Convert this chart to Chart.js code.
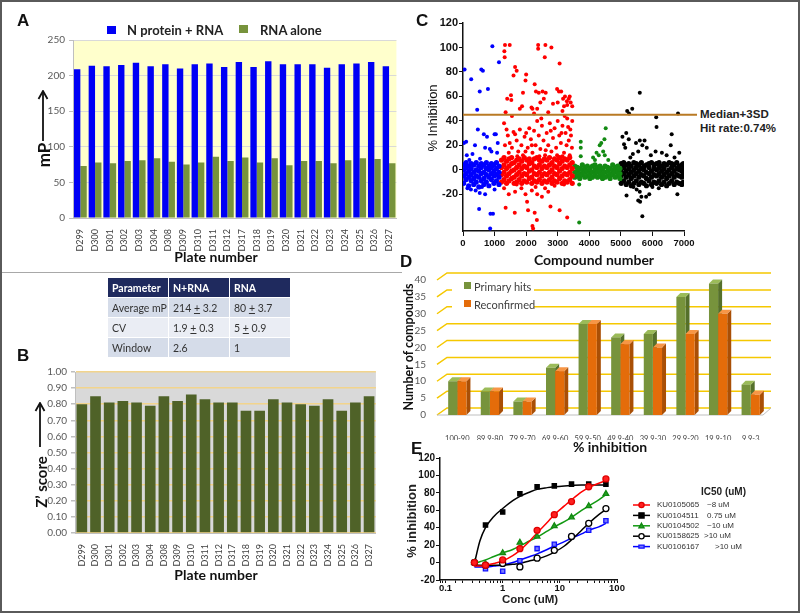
<!DOCTYPE html>
<html><head><meta charset="utf-8">
<script src="https://cdn.jsdelivr.net/npm/chart.js@4.4.0/dist/chart.umd.min.js"></script>
<style>
body{margin:0;width:800px;height:614px;position:relative;background:#fff;overflow:hidden;font-family:Lato,"Liberation Sans",sans-serif}
.frame{position:absolute;left:0;top:0;width:796px;height:609px;border:2px solid #5a5a5a}
canvas{position:absolute}
.t{position:absolute;white-space:nowrap;line-height:1}
.ctr{transform:translateX(-50%)}
.rot{transform:translate(-50%,-50%) rotate(-90deg)}
.pl{font:bold 17px "Liberation Sans",Arial,sans-serif;color:#111}
.tbl{position:absolute;border-collapse:collapse;table-layout:fixed;width:183px;font:10.5px Lato,sans-serif;color:#333}
.tbl td,.tbl th{border:1px solid #fff;padding:0 0 0 4px;text-align:left;height:19px;white-space:nowrap;overflow:hidden}
.tbl th{background:#1F2A5E;color:#fff;font-weight:bold}
.tbl tr.a td{background:#D5DCE9}
.tbl tr.b td{background:#EAEDF4}
.sq{position:absolute}
</style></head>
<body>
<div class="frame"></div>
<div style="position:absolute;left:2px;top:272px;width:400px;height:1px;background:#a8a8a8"></div>

<canvas id="cA" width="375" height="223" style="left:28px;top:30px"></canvas>
<canvas id="cB" width="353" height="211" style="left:30px;top:362px"></canvas>
<canvas id="cC" width="282" height="240" style="left:418px;top:13px"></canvas>
<canvas id="cD" width="368" height="178" style="left:411px;top:262px"></canvas>
<canvas id="cE" width="385" height="152" style="left:405px;top:448px"></canvas>

<!-- Panel A labels -->
<div class="t pl" style="left:17px;top:11px">A</div>
<div class="sq" style="left:107px;top:26px;width:9px;height:8px;background:#0000F5"></div>
<div class="t" style="left:127px;top:22px;font:bold 13px Lato,sans-serif;color:#222">N protein + RNA</div>
<div class="sq" style="left:239px;top:25px;width:9px;height:8px;background:#77933C"></div>
<div class="t" style="left:260px;top:22px;font:bold 13px Lato,sans-serif;color:#222">RNA alone</div>
<div class="t rot" style="left:43px;top:155px;font:bold 17px Lato,sans-serif;color:#111">mP</div>
<svg style="position:absolute;left:37px;top:90px" width="12" height="52"><line x1="6" y1="51" x2="6" y2="3" stroke="#111" stroke-width="1.8"/><path d="M1.5 9 L6 1 L10.5 9" fill="none" stroke="#111" stroke-width="1.8"/></svg>
<div class="t ctr" style="left:216px;top:248px;font:bold 14px Lato,sans-serif;color:#111">Plate number</div>

<table class="tbl" id="tbl" style="left:107px;top:277px"><colgroup><col style="width:61px"><col style="width:61px"><col style="width:61px"></colgroup><tbody id="tbody"></tbody></table>

<!-- Panel B labels -->
<div class="t pl" style="left:17px;top:346px">B</div>
<div class="t rot" style="left:41px;top:482px;font:bold 15px Lato,sans-serif;color:#111">Z’ score</div>
<svg style="position:absolute;left:34px;top:402px" width="12" height="46"><line x1="6" y1="45" x2="6" y2="3" stroke="#111" stroke-width="1.8"/><path d="M1.5 9 L6 1 L10.5 9" fill="none" stroke="#111" stroke-width="1.8"/></svg>
<div class="t ctr" style="left:216px;top:566px;font:bold 14px Lato,sans-serif;color:#111">Plate number</div>

<!-- Panel C labels -->
<div class="t pl" style="left:416px;top:11px">C</div>
<div class="t rot" style="left:432px;top:118px;font:13px 'Liberation Sans',Arial,sans-serif;color:#111">% Inhibition</div>
<div class="t" style="left:700px;top:108px;font:bold 11.5px 'Liberation Sans Narrow','Liberation Sans',Arial,sans-serif;color:#222">Median+3SD</div>
<div class="t" style="left:700px;top:122px;font:bold 11.5px 'Liberation Sans Narrow','Liberation Sans',Arial,sans-serif;color:#222">Hit rate:0.74%</div>
<div class="t ctr" style="left:594px;top:251px;font:bold 14px Lato,sans-serif;color:#111">Compound number</div>

<!-- Panel D labels -->
<div class="t pl" style="left:400px;top:252px">D</div>
<div class="t rot" style="left:408px;top:347px;font:bold 12.5px Lato,sans-serif;color:#111">Number of compounds</div>
<div style="position:absolute;left:452px;top:278px;width:82px;height:35px;background:#fff"></div>
<div class="sq" style="left:464px;top:282px;width:7px;height:7px;background:#77933C"></div>
<div class="t" style="left:474px;top:280px;font:11px Lato,sans-serif;color:#404040">Primary hits</div>
<div class="sq" style="left:464px;top:300px;width:7px;height:7px;background:#E46C0A"></div>
<div class="t" style="left:474px;top:298px;font:11px Lato,sans-serif;color:#404040">Reconfirmed</div>
<div class="t ctr" style="left:610px;top:438px;font:bold 14px Lato,sans-serif;color:#111">% inhibition</div>

<!-- Panel E labels -->
<div class="t pl" style="left:411px;top:439px">E</div>
<div class="t rot" style="left:411px;top:521px;font:bold 13px 'Liberation Sans',Arial,sans-serif;color:#222">% inhibition</div>
<div class="t ctr" style="left:530px;top:593px;font:bold 11.5px 'Liberation Sans',Arial,sans-serif;color:#222">Conc (uM)</div>

<script>
// ---------- Panel A / B data ----------
const plates = ['D299','D300','D301','D302','D303','D304','D308','D309','D310','D311','D312','D317','D318','D319','D320','D321','D322','D323','D324','D325','D326','D327'];
const nProteinRNA = [209,214,213,215,218,213,216,210,216,217,212,219,212,220,216,216,216,211,216,217,219,213];
const rnaAlone = [73,78,77,80,81,84,79,75,78,86,80,85,78,84,74,80,80,77,81,84,83,77];
const zScore = [0.80,0.85,0.81,0.82,0.81,0.79,0.85,0.82,0.86,0.83,0.81,0.81,0.76,0.76,0.83,0.81,0.80,0.79,0.83,0.76,0.81,0.85];

// ---------- Table ----------
const tableHeader = ['Parameter','N+RNA','RNA'];
const tableRows = [['Average mP','214 <u>+</u> 3.2','80 <u>+</u> 3.7'],['CV','1.9 <u>+</u> 0.3','5 <u>+</u> 0.9'],['Window','2.6','1']];

// ---------- Panel C data (compound number, % inhibition) ----------
const blueBandX = [20,100,180,260,340,420,500,580,660,740,820,900,980,1060,1140];
const blueBandY = [[-11,-5,0,4],[-8,-3,2,6],[-13,-6,-1,3],[-9,-4,1,5],[-12,-7,-2,4],[-10,-5,0,6],[-14,-6,-1,3],[-9,-3,2,5],[-12,-7,-2,4],[-10,-4,1,6],[-13,-6,0,3],[-8,-3,2,5],[-11,-5,-1,4],[-9,-4,1,6],[-12,-6,-2,3]];
const redBandX = [1220,1300,1380,1460,1540,1620,1700,1780,1860,1940,2020,2100,2180,2260,2340,2420,2500,2580,2660,2740,2820,2900,2980,3060,3140,3220,3300,3380,3460];
const redBandY = [[-10,-4,2,8],[-8,-2,4,10],[-11,-5,1,7],[-9,-3,3,9],[-7,-1,5,10],[-11,-6,0,6],[-10,-4,2,8],[-8,-2,4,9],[-11,-5,1,7],[-9,-3,3,10],[-10,-4,2,8],[-7,-1,5,9],[-11,-6,0,6],[-9,-3,3,9],[-10,-4,2,10],[-8,-2,4,8],[-11,-5,1,7],[-9,-3,3,9],[-10,-4,2,8],[-8,-2,4,10],[-11,-6,0,6],[-9,-3,3,9],[-10,-4,2,8],[-7,-1,5,10],[-11,-5,1,7],[-9,-3,3,9],[-10,-4,2,8],[-8,-2,4,10],[-11,-5,1,6]];
const greenBandX = [3540,3620,3700,3780,3860,3940,4020,4100,4180,4260,4340,4420,4500,4580,4660,4740,4820,4900,4970];
const greenBandY = [[-6,-2,3],[-5,-1,2],[-7,-3,1],[-4,0,4],[-6,-2,2],[-5,-1,3],[-7,-3,1],[-6,-2,3],[-4,0,4],[-6,-2,2],[-5,-1,3],[-7,-3,1],[-6,-2,3],[-5,-1,2],[-7,-3,1],[-4,0,4],[-6,-2,2],[-5,-1,3],[-7,-3,1]];
const blackBandX = [5010,5090,5170,5250,5330,5410,5490,5570,5650,5730,5810,5890,5970,6050,6130,6210,6290,6370,6450,6530,6610,6690,6770,6850,6930,6980];
const blackBandY = [[-11,-5,0,5],[-9,-3,2,6],[-12,-6,-1,4],[-10,-4,1,5],[-13,-7,-2,3],[-11,-5,0,6],[-9,-3,2,5],[-12,-6,-1,4],[-10,-4,1,6],[-11,-5,0,3],[-13,-7,-2,4],[-9,-3,2,5],[-12,-6,-1,6],[-10,-4,1,4],[-11,-5,0,5],[-9,-3,2,6],[-12,-6,-1,3],[-10,-4,1,5],[-13,-7,-2,4],[-11,-5,0,6],[-9,-3,2,5],[-12,-6,-1,4],[-10,-4,1,6],[-11,-5,0,3],[-12,-6,-1,4],[-10,-4,1,5]];
const blueOut = [[50,82],[260,74],[580,82],[630,81],[930,101],[530,64],[790,66],[1140,88],[450,49],[470,33],[100,23],[660,29],[1000,29],[1040,29],[300,13],[120,12],[200,8],[380,20],[700,18],[850,17],[900,15],[1080,14],[1100,22],[530,-19],[700,-20],[510,-32],[870,-36],[950,-36],[860,-48],[140,-15],[250,-16],[400,-17],[600,-14],[1000,-16],[30,22],[540,9],[760,27]];
const redOut = [[1330,102],[1480,102],[1310,97],[1320,92],[1650,84],[1700,81],[1600,77],[2000,78],[1980,73],[1900,63],[2270,70],[2380,102],[2380,99],[2610,102],[2800,100],[2590,92],[3060,87],[1400,58],[1520,61],[1530,57],[1870,52],[2170,51],[2200,50],[2310,64],[2400,63],[2520,64],[2620,63],[2560,58],[2450,55],[2350,50],[2980,66],[3040,64],[3110,64],[3000,55],[3170,58],[3230,60],[3290,56],[3350,58],[3410,55],[3460,52],[3200,52],[3300,53],[3380,60],[1350,47],[1800,50],[2700,47],[2250,46],[3150,48],[2850,54],[1550,44],[2480,42],
 [1300,38],[1380,33],[1420,28],[1480,22],[1550,18],[1600,31],[1650,29],[1700,24],[1750,15],[1800,33],[1850,20],[1900,12],[1950,27],[2000,30],[2050,18],[2100,34],[2150,25],[2200,14],[2250,32],[2300,20],[2350,40],[2400,28],[2450,17],[2500,36],[2550,24],[2600,12],[2650,30],[2700,20],[2750,38],[2800,15],[2850,26],[2900,34],[2950,18],[3000,40],[3050,28],[3100,22],[3150,36],[3200,14],[3250,30],[3300,42],[3350,24],[3400,33],[3450,18],[3220,44],[3380,12],[3280,20],[3150,11],[2980,12],[2780,32],[2620,16],[2420,11],[2180,20],[1980,15],[1720,11],[1450,14],[1330,20],[3460,40],[3420,28],[3330,35],[3120,30],
 [1300,-15],[1450,-20],[1650,-18],[1700,-12],[1850,-15],[1980,-20],[2030,-26],[2060,-33],[2180,-17],[2300,-14],[2350,-20],[1350,-31],[1640,-35],[2270,-35],[2340,-41],[2200,-46],[2220,-48],[2770,-30],[3060,-33],[3300,-39],[2600,-15],[2900,-13],[3200,-12],[2500,-22],[2700,-18]];
const greenOut = [[3730,23],[3730,18],[3730,11],[4120,10],[4230,14],[4330,20],[4380,22],[4440,15],[4490,12],[4520,34],[4300,12],[4180,8],[3680,-12],[3680,-43],[4600,8],[4480,25]];
const blackOut = [[5200,48],[5360,50],[5260,46],[5600,63],[6120,43],[6130,35],[6810,46],[6610,29],[5050,27],[5100,21],[5170,30],[5140,18],[5250,25],[5380,13],[5480,22],[5600,24],[5680,20],[5750,24],[5820,18],[5950,12],[6100,15],[6300,14],[6450,12],[6580,20],[6700,10],[6850,14],[5300,10],[5550,15],[5180,-21],[5500,-16],[5550,-25],[5610,-26],[5650,-22],[5600,-18],[5680,-38],[5800,-22],[5900,-20],[6790,-20],[5400,-14],[6000,-14],[6200,-15]];
const medianPlus3SD = 45;

// ---------- Panel D data ----------
const bins = ['100-90','89.9-80','79.9-70','69.9-60','59.9-50','49.9-40','39.9-30','29.9-20','19.9-10','9.9-3'];
const primaryHits = [10,7,4,14,27,23,24,35,39,9];
const reconfirmed = [10,7,4,13,27,21,20,24,30,6];

// ---------- Panel E data ----------
const conc = [0.32,0.5,1,2,4,8,16,32,64];
const compounds = ['KU0105065','KU0104511','KU0104502','KU0158625','KU0106167'];
const ic50 = ['~8 uM','0.75 uM','~10 uM','>10 uM','>10 uM'];
const inhKU0105065 = [0,-3,3,16,37,55,70,87,96];
const inhKU0104511 = [0,43,58,79,87,88,90,90,90];
const inhKU0104502 = [0,-2,11,23,30,42,52,65,79];
const inhKU0158625 = [0,-3,-1,-5,5,14,30,45,62];
const inhKU0106167 = [0,-7,-10,2,16,21,30,37,48];
const fitConc = [0.32,0.4,0.5,0.7,1,1.5,2,3,4,6,8,12,16,24,32,48,64];
const fitKU0105065 = [-4,-4,-3,-1,2,8,14,25,34,46,55,65,72,81,86,91,94];
const fitKU0104511 = [-1,25,40,53,62,71,76,81,84,86,87,88,88.5,89,89,89,89];
const fitKU0104502 = [-1,1,3,7,11,15,19,25,29,36,41,47,52,60,65,72,78];
const fitKU0158625 = [-2,-3,-3,-3,-3,-2,-1,2,4,8,12,19,26,37,45,55,61];
const fitKU0106167 = [-5,-5,-5,-4,-3,0,3,7,10,15,19,24,28,33,37,41,45];

// ---------- build table ----------
(function(){
  const t = document.getElementById('tbody');
  let h = '<tr>' + tableHeader.map(s=>'<th>'+s+'</th>').join('') + '</tr>';
  tableRows.forEach((r,i)=>{ h += '<tr class="'+(i%2===0?'a':'b')+'">' + r.map(s=>'<td>'+s+'</td>').join('') + '</tr>'; });
  t.innerHTML = h;
})();

Chart.defaults.font.family = 'Lato, "Liberation Sans", sans-serif';
Chart.defaults.animation = false;
Chart.defaults.responsive = false;
Chart.defaults.plugins.legend.display = false;
Chart.defaults.plugins.tooltip.enabled = false;

const plotBg = {id:'plotBg', beforeDraw(chart, args, o){
  if(!o || !o.color) return;
  const {ctx, chartArea:a} = chart;
  ctx.save(); ctx.fillStyle = o.color; ctx.fillRect(a.left, a.top, a.right-a.left, a.bottom-a.top); ctx.restore();
}};

function pairs(xs, ys){ const out=[]; xs.forEach((x,i)=>ys[i].forEach(y=>out.push({x, y}))); return out; }
function pts(arr){ return arr.map(p=>({x:p[0], y:p[1]})); }
function xy(xs, ys){ return xs.map((x,i)=>({x, y:ys[i]})); }

// ---------- Panel A ----------
new Chart(document.getElementById('cA'), {
  type:'bar',
  data:{labels:plates, datasets:[
    {label:'N protein + RNA', data:nProteinRNA, backgroundColor:'#0000F5', categoryPercentage:0.87, barPercentage:1},
    {label:'RNA alone', data:rnaAlone, backgroundColor:'#77933C', categoryPercentage:0.87, barPercentage:1}
  ]},
  options:{
    layout:{padding:{top:10,right:6,left:0,bottom:0}},
    plugins:{plotBg:{color:'#FFFFCC'}},
    scales:{
      x:{grid:{display:false}, border:{color:'#BFBFBF'}, ticks:{minRotation:90,maxRotation:90,autoSkip:false,font:{size:9},color:'#404040',padding:3}, afterFit(s){s.height=35;}},
      y:{min:0,max:250,ticks:{stepSize:50,font:{size:10},color:'#595959',padding:4}, grid:{color:'#D9D9D9',tickLength:4,tickColor:'#BFBFBF'}, border:{color:'#BFBFBF'}, afterFit(s){s.width=45;}}
    }
  },
  plugins:[plotBg]
});

// ---------- Panel B ----------
new Chart(document.getElementById('cB'), {
  type:'bar',
  data:{labels:plates, datasets:[{label:"Z' score", data:zScore, backgroundColor:'#4F6228', categoryPercentage:1, barPercentage:0.78}]},
  options:{
    layout:{padding:{top:10,right:6,left:0,bottom:0}},
    plugins:{plotBg:{color:'#D9D9D9'}},
    scales:{
      x:{grid:{display:false}, border:{color:'#BFBFBF'}, ticks:{minRotation:90,maxRotation:90,autoSkip:false,font:{size:9},color:'#404040',padding:3}, afterFit(s){s.height=40;}},
      y:{min:0,max:1,ticks:{stepSize:0.1,font:{size:10},color:'#595959',padding:4,callback:v=>Number(v).toFixed(2)}, grid:{color:'#F2D48C',lineWidth:1.5,tickLength:4,tickColor:'#BFBFBF'}, border:{color:'#BFBFBF'}, afterFit(s){s.width=45;}}
    }
  },
  plugins:[plotBg]
});

// ---------- Panel C ----------
const medianLine = {id:'medianLine', afterDatasetsDraw(chart){
  const {ctx, chartArea:a, scales:{y}} = chart;
  const py = y.getPixelForValue(medianPlus3SD);
  ctx.save(); ctx.strokeStyle = '#B97A24'; ctx.lineWidth = 2;
  ctx.beginPath(); ctx.moveTo(a.left, py); ctx.lineTo(a.right + 13, py); ctx.stroke(); ctx.restore();
}};
new Chart(document.getElementById('cC'), {
  type:'scatter',
  data:{datasets:[
    {data:pairs(blueBandX, blueBandY), backgroundColor:'#0000FF', borderWidth:0, pointRadius:2.6},
    {data:pts(blueOut), backgroundColor:'#0000FF', borderWidth:0, pointRadius:2},
    {data:pairs(redBandX, redBandY), backgroundColor:'#FF0000', borderWidth:0, pointRadius:2.6},
    {data:pts(redOut), backgroundColor:'#FF0000', borderWidth:0, pointRadius:2},
    {data:pairs(greenBandX, greenBandY), backgroundColor:'#138A13', borderWidth:0, pointRadius:2.6},
    {data:pts(greenOut), backgroundColor:'#138A13', borderWidth:0, pointRadius:2},
    {data:pairs(blackBandX, blackBandY), backgroundColor:'#000000', borderWidth:0, pointRadius:2.6},
    {data:pts(blackOut), backgroundColor:'#000000', borderWidth:0, pointRadius:2}
  ]},
  options:{
    layout:{padding:{top:10,right:16,left:0,bottom:0}},
    scales:{
      x:{type:'linear',min:0,max:7000,ticks:{stepSize:1000,callback:v=>String(v),font:{size:9.5,weight:'bold',family:'"Liberation Sans", Arial'},color:'#111',padding:2},
         grid:{drawOnChartArea:false,tickLength:5,color:'#111'}, border:{color:'#111',width:1.5}, afterFit(s){s.height=22;}},
      y:{min:-50,max:120,afterBuildTicks(s){s.ticks = s.ticks.filter(t=>t.value % 20 === 0);},
         ticks:{callback:v=>String(v),font:{size:11,weight:'bold',family:'"Liberation Sans", Arial'},color:'#111',padding:1},
         grid:{drawOnChartArea:false,tickLength:4,color:'#111'}, border:{color:'#111',width:1.5}, afterFit(s){s.width=45;}}
    }
  },
  plugins:[medianLine]
});

// ---------- Panel D ----------
const box3d = {id:'box3d', beforeDatasetsDraw(chart){
  const {ctx, chartArea:a, scales:{y}} = chart;
  const dx = 10, dy = 7;
  ctx.save();
  ctx.strokeStyle = '#F5C800'; ctx.lineWidth = 1.5;
  y.ticks.forEach(t=>{
    const py = y.getPixelForValue(t.value);
    ctx.beginPath(); ctx.moveTo(a.left-4, py); ctx.lineTo(a.left-4+dx, py-dy); ctx.lineTo(a.right+4, py-dy); ctx.stroke();
  });
  const p0 = y.getPixelForValue(0);
  ctx.strokeStyle = '#BFBFBF'; ctx.lineWidth = 1;
  ctx.beginPath(); ctx.moveTo(a.left-4, p0); ctx.lineTo(a.right-4, p0); ctx.lineTo(a.right+4, p0-dy); ctx.stroke();
  const bx = 4, by = 4;
  chart.data.datasets.forEach((ds, di)=>{
    chart.getDatasetMeta(di).data.forEach(el=>{
      const {x, y:top, base, width} = el.getProps(['x','y','base','width'], true);
      const l = x - width/2, r = x + width/2;
      ctx.fillStyle = ds.sideColor;
      ctx.beginPath(); ctx.moveTo(r, top); ctx.lineTo(r+bx, top-by); ctx.lineTo(r+bx, base-by); ctx.lineTo(r, base); ctx.closePath(); ctx.fill();
      ctx.fillStyle = ds.topColor;
      ctx.beginPath(); ctx.moveTo(l, top); ctx.lineTo(l+bx, top-by); ctx.lineTo(r+bx, top-by); ctx.lineTo(r, top); ctx.closePath(); ctx.fill();
    });
  });
  ctx.restore();
}};
new Chart(document.getElementById('cD'), {
  type:'bar',
  data:{labels:bins, datasets:[
    {label:'Primary hits', data:primaryHits, backgroundColor:'#77933C', sideColor:'#55702B', topColor:'#9BBB59', categoryPercentage:0.56, barPercentage:1},
    {label:'Reconfirmed', data:reconfirmed, backgroundColor:'#E46C0A', sideColor:'#A94F06', topColor:'#F79646', categoryPercentage:0.56, barPercentage:1}
  ]},
  options:{
    layout:{padding:{top:18,right:12,left:0,bottom:0}},
    scales:{
      x:{grid:{display:false}, border:{display:false}, ticks:{maxRotation:0,minRotation:0,autoSkip:false,font:{size:7.5},color:'#404040',padding:11}, afterFit(s){s.height=25;}},
      y:{min:0,max:40,ticks:{stepSize:5,font:{size:10},color:'#595959',padding:7}, grid:{display:false}, border:{display:false}, afterFit(s){s.width=30;}}
    }
  },
  plugins:[box3d]
});

// ---------- Panel E ----------
function drawMarker(ctx, style, x, y, r, fill, stroke){
  ctx.save(); ctx.fillStyle = fill; ctx.strokeStyle = stroke; ctx.lineWidth = 1.3;
  ctx.beginPath();
  if(style==='circle'){ ctx.arc(x, y, r, 0, Math.PI*2); }
  else if(style==='rect'){ ctx.rect(x-r, y-r, 2*r, 2*r); }
  else if(style==='triangle'){ ctx.moveTo(x, y-r); ctx.lineTo(x+r, y+r*0.8); ctx.lineTo(x-r, y+r*0.8); ctx.closePath(); }
  else if(style==='dash'){ ctx.rect(x-r, y-r*0.6, 2*r, 1.2*r); }
  ctx.fill(); ctx.stroke(); ctx.restore();
}
const markerStyles = [
  {style:'circle', fill:'#FF2020', stroke:'#E00000', line:'#FF0000'},
  {style:'rect', fill:'#000000', stroke:'#000000', line:'#000000'},
  {style:'triangle', fill:'#22A022', stroke:'#118811', line:'#119911'},
  {style:'circle', fill:'#FFFFFF', stroke:'#000000', line:'#000000'},
  {style:'dash', fill:'#7A7AFF', stroke:'#1010FF', line:'#0000FF'}
];
const icLegend = {id:'icLegend', afterDraw(chart){
  const {ctx, chartArea:a} = chart;
  ctx.save();
  ctx.fillStyle = '#222'; ctx.font = 'bold 10px "Liberation Sans", Arial'; ctx.textBaseline = 'middle';
  ctx.fillText('IC50 (uM)', a.right + 84, a.top + 34);
  ctx.font = '8px "Liberation Sans", Arial';
  compounds.forEach((c,i)=>{
    const y = a.top + 47 + i*10.4, m = markerStyles[i];
    ctx.strokeStyle = m.line; ctx.lineWidth = 1.5;
    ctx.beginPath(); ctx.moveTo(a.right + 16, y); ctx.lineTo(a.right + 33, y); ctx.stroke();
    drawMarker(ctx, m.style, a.right + 24.5, y, 2.6, m.fill, m.stroke);
    ctx.fillStyle = '#333';
    ctx.fillText(c, a.right + 40, y);
    ctx.fillText(ic50[i], a.right + (i===4 ? 98 : (i===3 ? 87 : 90)), y);
  });
  ctx.restore();
}};
const fitSets = [fitKU0105065, fitKU0104511, fitKU0104502, fitKU0158625, fitKU0106167];
const pointSets = [inhKU0105065, inhKU0104511, inhKU0104502, inhKU0158625, inhKU0106167];
const pointStyleMap = {circle:'circle', rect:'rect', triangle:'triangle', dash:'rect'};
const eDatasets = [];
pointSets.forEach((d,i)=>{
  const m = markerStyles[i];
  eDatasets.push({label:compounds[i], data:xy(conc, d), showLine:false, pointStyle:pointStyleMap[m.style],
    pointRadius: m.style==='triangle' ? 3.2 : 3, backgroundColor:m.fill, borderColor:m.stroke, pointBorderWidth:1.3});
});
fitSets.forEach((d,i)=>{
  eDatasets.push({label:compounds[i]+' fit', data:xy(fitConc, d), showLine:true, pointRadius:0, borderColor:markerStyles[i].line, borderWidth:1.5, cubicInterpolationMode:'monotone', fill:false});
});
new Chart(document.getElementById('cE'), {
  type:'scatter',
  data:{datasets:eDatasets},
  options:{
    layout:{padding:{top:10,right:173,left:0,bottom:0}},
    scales:{
      x:{type:'logarithmic',min:0.08,max:100,
         ticks:{autoSkip:false,maxRotation:0,font:{size:9.5,weight:'bold',family:'"Liberation Sans", Arial'},color:'#111',padding:0,
           callback:v=>{const l=Math.log10(v); return Math.abs(l-Math.round(l))<1e-6 ? String(Number(v)) : '';}},
         grid:{drawOnChartArea:false,tickLength:3,color:'#111'}, border:{color:'#111',width:1.5}, afterFit(s){s.height=20;}},
      y:{min:-20,max:120,ticks:{stepSize:20,font:{size:10,weight:'bold',family:'"Liberation Sans", Arial'},color:'#111',padding:1},
         grid:{drawOnChartArea:false,tickLength:4,color:'#111'}, border:{color:'#111',width:1.5}, afterFit(s){s.width=35;}}
    }
  },
  plugins:[icLegend]
});
</script>
</body></html>
